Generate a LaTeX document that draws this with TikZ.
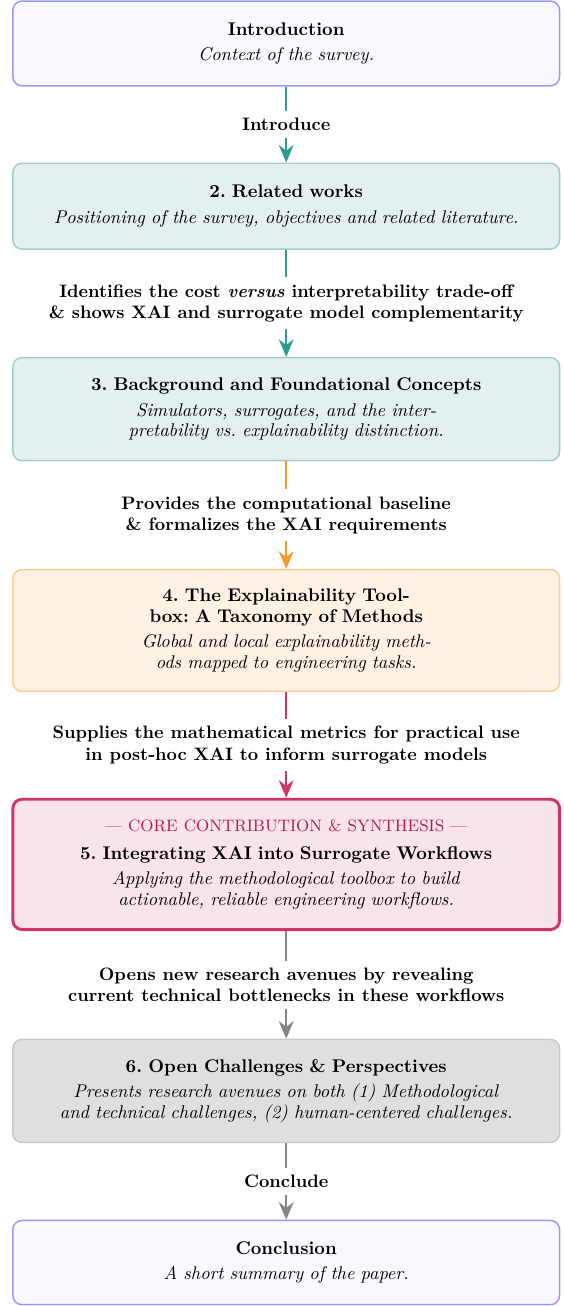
\documentclass[tikz,border=0pt]{standalone}
\usetikzlibrary{arrows.meta}
\frenchspacing

\definecolor{introline}{HTML}{9999F2}
\definecolor{introfill}{HTML}{F9F8FF}
\definecolor{tealline}{HTML}{9DCFCB}
\definecolor{tealfill}{HTML}{E3F0EF}
\definecolor{tealarrow}{HTML}{2E9A94}
\definecolor{orangeline}{HTML}{FFCB94}
\definecolor{orangefill}{HTML}{FFF1E4}
\definecolor{orangearrow}{HTML}{F7982F}
\definecolor{coreline}{HTML}{D03567}
\definecolor{corefill}{HTML}{F8E4EA}
\definecolor{coretext}{HTML}{B0174F}
\definecolor{grayline}{HTML}{C8C8C8}
\definecolor{grayfill}{HTML}{DFDFDF}
\definecolor{grayarrow}{HTML}{858585}

\tikzset{
  partbox/.style={rounded corners=5pt, line width=0.8pt, minimum width=10.45cm,
    text width=10.2cm, align=center, font=\fontsize{10}{11}\selectfont, inner sep=0pt},
  link/.style={line width=1.2pt, -{Stealth[length=9.5pt,width=8pt]}},
  linklabel/.style={fill=white, text=black, font=\fontsize{9.8}{11.5}\selectfont\bfseries,
    align=center, inner sep=4pt},
}

\begin{document}
\begin{tikzpicture}

\useasboundingbox (0,0) rectangle (10.76,-24.96);

% the parts of the survey
\node[partbox, draw=introline, fill=introfill, minimum height=1.62cm] (intro) at (5.47,-0.83)
  {\textbf{Introduction}\\[3pt]\textit{Context of the survey.}};
\node[partbox, draw=tealline, fill=tealfill, minimum height=1.64cm] (related) at (5.47,-3.94)
  {\textbf{2. Related works}\\[3pt]\textit{Positioning of the survey, objectives and related literature.}};
\node[partbox, draw=tealline, fill=tealfill, minimum height=1.97cm] (background) at (5.47,-7.82)
  {\textbf{3. Background and Foundational Concepts}\\[3pt]\textit{Simulators, surrogates, and the inter-}\\\textit{pretability vs. explainability distinction.}};
\node[partbox, draw=orangeline, fill=orangefill, minimum height=2.33cm] (toolbox) at (5.47,-12.05)
  {\textbf{4. The Explainability Tool-}\\\textbf{box: A Taxonomy of Methods}\\[3pt]\textit{Global and local explainability meth-}\\\textit{ods mapped to engineering tasks.}};
\node[partbox, draw=coreline, fill=corefill, line width=1.6pt, minimum height=2.49cm] (workflows) at (5.47,-16.52)
  {{\small\color{coretext}--- CORE CONTRIBUTION \& SYNTHESIS ---}\\[4pt]\textbf{5. Integrating XAI into Surrogate Workflows}\\[3pt]\textit{Applying the methodological toolbox to build}\\\textit{actionable, reliable engineering workflows.}};
\node[partbox, draw=grayline, fill=grayfill, minimum height=1.97cm] (challenges) at (5.47,-20.85)
  {\textbf{6. Open Challenges \& Perspectives}\\[3pt]\textit{Presents research avenues on both (1) Methodological}\\\textit{and technical challenges, (2) human-centered challenges.}};
\node[partbox, draw=introline, fill=introfill, minimum height=1.61cm] (conclusion) at (5.47,-24.13)
  {\textbf{Conclusion}\\[3pt]\textit{A short summary of the paper.}};

% the links between them
\draw[link, draw=tealarrow] (intro) -- node[linklabel]{Introduce} (related);
\draw[link, draw=tealarrow] (related) -- node[linklabel]{Identifies the cost \textit{versus} interpretability trade-off\\\& shows XAI and surrogate model complementarity} (background);
\draw[link, draw=orangearrow] (background) -- node[linklabel]{Provides the computational baseline\\\& formalizes the XAI requirements} (toolbox);
\draw[link, draw=coreline] (toolbox) -- node[linklabel]{Supplies the mathematical metrics for practical use\\in post-hoc XAI to inform surrogate models} (workflows);
\draw[link, draw=grayarrow] (workflows) -- node[linklabel]{Opens new research avenues by revealing\\current technical bottlenecks in these workflows} (challenges);
\draw[link, draw=grayarrow] (challenges) -- node[linklabel]{Conclude} (conclusion);

\end{tikzpicture}
\end{document}
